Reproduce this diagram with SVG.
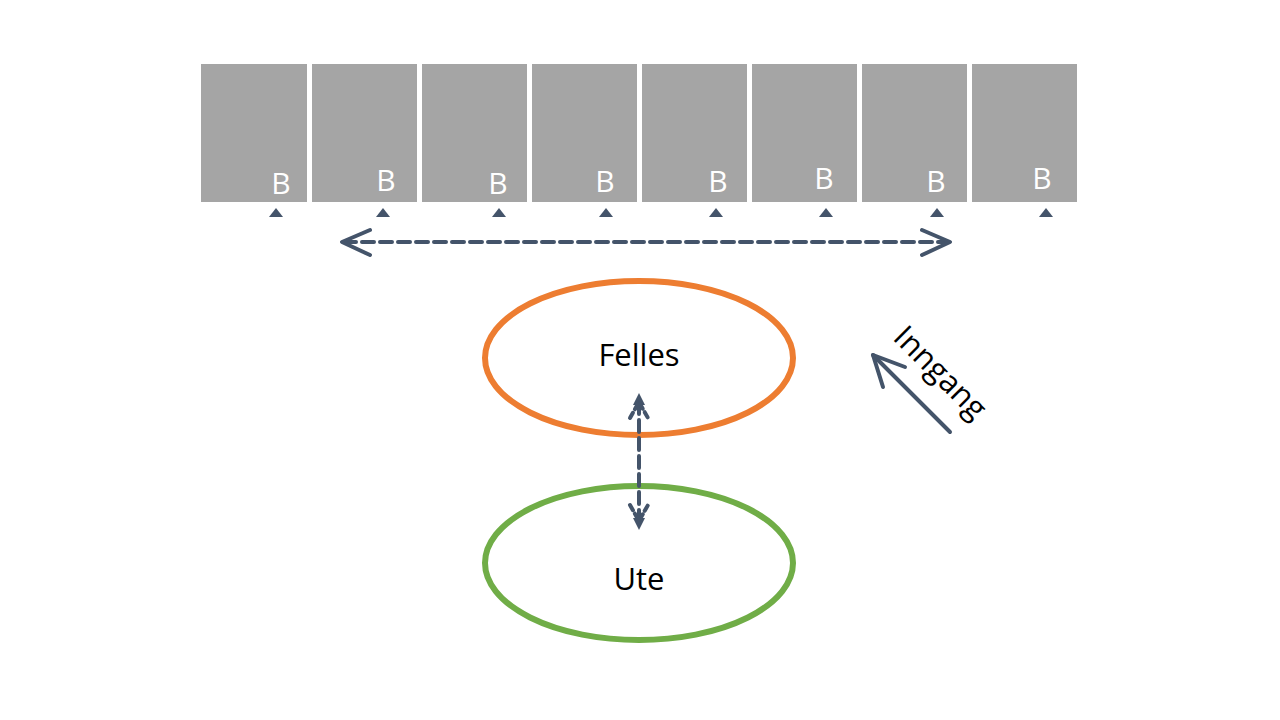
<svg xmlns="http://www.w3.org/2000/svg" width="1280" height="720" viewBox="0 0 1280 720">
<style>
.box{fill:#A5A5A5}
.bl{fill:#FFFFFF;font-family:"Open Sans","Liberation Sans",sans-serif;font-size:30px;text-anchor:middle}
.tri{fill:#44546A}
.lbl{fill:#000000;font-family:"Open Sans","Liberation Sans",sans-serif;font-size:31px;text-anchor:middle}
.dash{fill:none;stroke:#44546A;stroke-width:4;stroke-dasharray:12 6;stroke-linecap:round}
.head{fill:none;stroke:#44546A;stroke-width:4;stroke-linecap:round;stroke-linejoin:round}
</style>
<rect width="1280" height="720" fill="#FFFFFF"/>
<g id="units">
<g id="b1"><rect class="box" x="201" y="64" width="106" height="138"/><text class="bl" x="281" y="194">B</text><path class="tri" d="M276 208 L283 217 L269 217 Z"/></g>
<g id="b2"><rect class="box" x="312" y="64" width="105" height="138"/><text class="bl" x="386" y="191">B</text><path class="tri" d="M383 208 L390 217 L376 217 Z"/></g>
<g id="b3"><rect class="box" x="422" y="64" width="105" height="138"/><text class="bl" x="498" y="194">B</text><path class="tri" d="M499 208 L506 217 L492 217 Z"/></g>
<g id="b4"><rect class="box" x="532" y="64" width="105" height="138"/><text class="bl" x="605" y="192">B</text><path class="tri" d="M606 208 L613 217 L599 217 Z"/></g>
<g id="b5"><rect class="box" x="642" y="64" width="105" height="138"/><text class="bl" x="718" y="192">B</text><path class="tri" d="M716 208 L723 217 L709 217 Z"/></g>
<g id="b6"><rect class="box" x="752" y="64" width="105" height="138"/><text class="bl" x="824" y="189">B</text><path class="tri" d="M826 208 L833 217 L819 217 Z"/></g>
<g id="b7"><rect class="box" x="862" y="64" width="105" height="138"/><text class="bl" x="936" y="192">B</text><path class="tri" d="M937 208 L944 217 L930 217 Z"/></g>
<g id="b8"><rect class="box" x="972" y="64" width="105" height="138"/><text class="bl" x="1042" y="189">B</text><path class="tri" d="M1046 208 L1053 217 L1039 217 Z"/></g>
</g>
<g id="felles">
<ellipse cx="639" cy="358" rx="154" ry="77" fill="none" stroke="#ED7D31" stroke-width="6"/>
<text class="lbl" x="639" y="366">Felles</text>
</g>
<g id="ute">
<ellipse cx="639" cy="563" rx="154" ry="77" fill="none" stroke="#70AD47" stroke-width="6"/>
<text class="lbl" x="639" y="590">Ute</text>
</g>
<g id="connectors">
<path class="dash" d="M344 242 L948 242"/>
<path class="head" d="M370 230 L342 242 L370 255"/>
<path class="head" d="M922 230 L950 242 L922 255"/>
<path class="dash" d="M639 402 L639 522" stroke-dasharray="10 6"/>
<path class="tri" d="M639 393 L645 405 L633 405 Z"/>
<path class="head" d="M630 418 L639 402 L648 418" stroke-dasharray="6 4"/>
<path class="tri" d="M639 530 L645 518 L633 518 Z"/>
<path class="head" d="M630 505 L639 521 L648 505" stroke-dasharray="6 4"/>
<path class="head" d="M950 432 L873 355"/>
<path class="head" d="M883 387 L873 355 L905 367"/>
</g>
<g id="inngang">
<text class="lbl" x="0" y="0" transform="translate(933 380) rotate(45)" style="text-anchor:middle">Inngang</text>
</g>
</svg>
